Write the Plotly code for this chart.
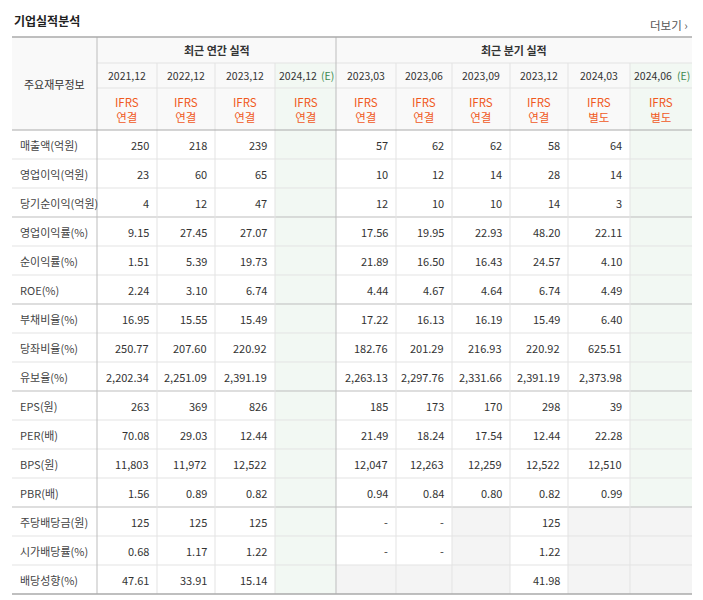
import plotly.graph_objects as go

row_labels = ["매출액(억원)", "영업이익(억원)", "당기순이익(억원)", "영업이익률(%)", "순이익률(%)", "ROE(%)",
              "부채비율(%)", "당좌비율(%)", "유보율(%)", "EPS(원)", "PER(배)", "BPS(원)", "PBR(배)",
              "주당배당금(원)", "시가배당률(%)", "배당성향(%)"]
annual_periods = ["2021.12", "2022.12", "2023.12", "2024.12"]
annual_types = ["연결", "연결", "연결", "연결"]
quarter_periods = ["2023.03", "2023.06", "2023.09", "2023.12", "2024.03", "2024.06"]
quarter_types = ["연결", "연결", "연결", "연결", "별도", "별도"]

annual_values = [
    ["250", "218", "239", ""], ["23", "60", "65", ""], ["4", "12", "47", ""],
    ["9.15", "27.45", "27.07", ""], ["1.51", "5.39", "19.73", ""], ["2.24", "3.10", "6.74", ""],
    ["16.95", "15.55", "15.49", ""], ["250.77", "207.60", "220.92", ""], ["2,202.34", "2,251.09", "2,391.19", ""],
    ["263", "369", "826", ""], ["70.08", "29.03", "12.44", ""], ["11,803", "11,972", "12,522", ""],
    ["1.56", "0.89", "0.82", ""], ["125", "125", "125", ""], ["0.68", "1.17", "1.22", ""],
    ["47.61", "33.91", "15.14", ""],
]
# None = empty (grey) cell
quarter_values = [
    ["57", "62", "62", "58", "64", ""], ["10", "12", "14", "28", "14", ""], ["12", "10", "10", "14", "3", ""],
    ["17.56", "19.95", "22.93", "48.20", "22.11", ""], ["21.89", "16.50", "16.43", "24.57", "4.10", ""],
    ["4.44", "4.67", "4.64", "6.74", "4.49", ""],
    ["17.22", "16.13", "16.19", "15.49", "6.40", ""], ["182.76", "201.29", "216.93", "220.92", "625.51", ""],
    ["2,263.13", "2,297.76", "2,331.66", "2,391.19", "2,373.98", ""],
    ["185", "173", "170", "298", "39", ""], ["21.49", "18.24", "17.54", "12.44", "22.28", ""],
    ["12,047", "12,263", "12,259", "12,522", "12,510", ""], ["0.94", "0.84", "0.80", "0.82", "0.99", ""],
    ["-", "-", None, "125", None, None], ["-", "-", None, "1.22", None, None],
    [None, None, None, "41.98", None, None],
]

FONT = "Noto Sans CJK KR"
x_edges = [12, 97, 157, 215, 275, 336, 396, 452, 510, 568, 630, 692]
top, h1, h2, h3 = 37, 63, 88, 130
rh = 29
bottom = h3 + rh * len(row_labels)
group_rows = [3, 6, 9, 13]

shapes, ann = [], []

def rect(x0, y0, x1, y1, color):
    shapes.append(dict(type="rect", x0=x0, x1=x1, y0=y0, y1=y1, fillcolor=color, line_width=0, layer="below"))

def line(x0, y0, x1, y1, color="#e3e3e3", w=1):
    shapes.append(dict(type="line", x0=x0, x1=x1, y0=y0, y1=y1, line=dict(color=color, width=w)))

def text(x, y, s, size=11, color="#333", anchor="center", bold=False):
    if bold:
        s = "<b>" + s + "</b>"
    ann.append(dict(x=x, y=y, text=s, showarrow=False, xanchor=anchor, yanchor="middle",
                    font=dict(family=FONT, size=size, color=color)))

# header backgrounds
rect(x_edges[0], top, x_edges[-1], h3, "#f9f9f9")
rect(x_edges[4], h1, x_edges[5], bottom, "#f2f8f3")
rect(x_edges[10], h1, x_edges[11], bottom, "#f2f8f3")

all_periods = annual_periods + quarter_periods
all_types = annual_types + quarter_types
for i, (p, t) in enumerate(zip(all_periods, all_types)):
    cx = (x_edges[i + 1] + x_edges[i + 2]) / 2
    if i in (3, 9):
        text(cx - 8, (h1 + h2) / 2, p.replace(".", ","), size=10.5)
        text(cx + 22, (h1 + h2) / 2, "(E)", size=10.5, color="#3c8a4e")
    else:
        text(cx, (h1 + h2) / 2, p.replace(".", ","), size=10.5)
    text(cx, (h2 + h3) / 2, "IFRS<br>" + t, size=11.5, color="#f05a1e")

text((x_edges[1] + x_edges[5]) / 2, (top + h1) / 2, "최근 연간 실적", bold=True)
text((x_edges[5] + x_edges[11]) / 2, (top + h1) / 2, "최근 분기 실적", bold=True)
text((x_edges[0] + x_edges[1]) / 2, (top + h3) / 2, "주요재무정보")
text(12, 20, "기업실적분석", size=12, color="#222", anchor="left", bold=True)
text(690, 25, "더보기 ›", size=11.5, color="#555", anchor="right")

for r, label in enumerate(row_labels):
    cy = h3 + rh * r + rh / 2
    text(18, cy, label, anchor="left", color="#444")
    vals = annual_values[r] + quarter_values[r]
    for c, v in enumerate(vals):
        x0, x1 = x_edges[c + 1], x_edges[c + 2]
        if v is None:
            rect(x0, h3 + rh * r, x1, h3 + rh * (r + 1), "#f4f4f4")
        elif v:
            text(x1 - 6, cy, v, anchor="right")

# grid lines
line(x_edges[1], h1, x_edges[-1], h1)
line(x_edges[1], h2, x_edges[-1], h2)
for r in range(1, len(row_labels)):
    yy = h3 + rh * r
    if r in group_rows:
        line(x_edges[0], yy, x_edges[-1], yy, "#bdbdbd", 1)
    else:
        line(x_edges[0], yy, x_edges[-1], yy)
for i, x in enumerate(x_edges[2:-1], start=2):
    if i == 5:
        continue
    line(x, h1, x, bottom)
line(x_edges[1], top, x_edges[1], bottom, "#bdbdbd")
line(x_edges[5], top, x_edges[5], bottom, "#bdbdbd")
line(x_edges[0], top, x_edges[-1], top, "#aaaaaa", 1.5)
line(x_edges[0], h3, x_edges[-1], h3, "#aaaaaa", 1)
line(x_edges[0], bottom, x_edges[-1], bottom, "#aaaaaa", 1.5)

fig = go.Figure()
# page body has an 8px margin, so shift the visible range to compensate
fig.update_layout(
    width=703, height=600, margin=dict(l=0, r=0, t=0, b=0),
    paper_bgcolor="white", plot_bgcolor="white",
    xaxis=dict(range=[8, 711], visible=False, fixedrange=True),
    yaxis=dict(range=[608, 8], visible=False, fixedrange=True),
    shapes=shapes, annotations=ann, showlegend=False,
)
fig.write_html("out.html")
